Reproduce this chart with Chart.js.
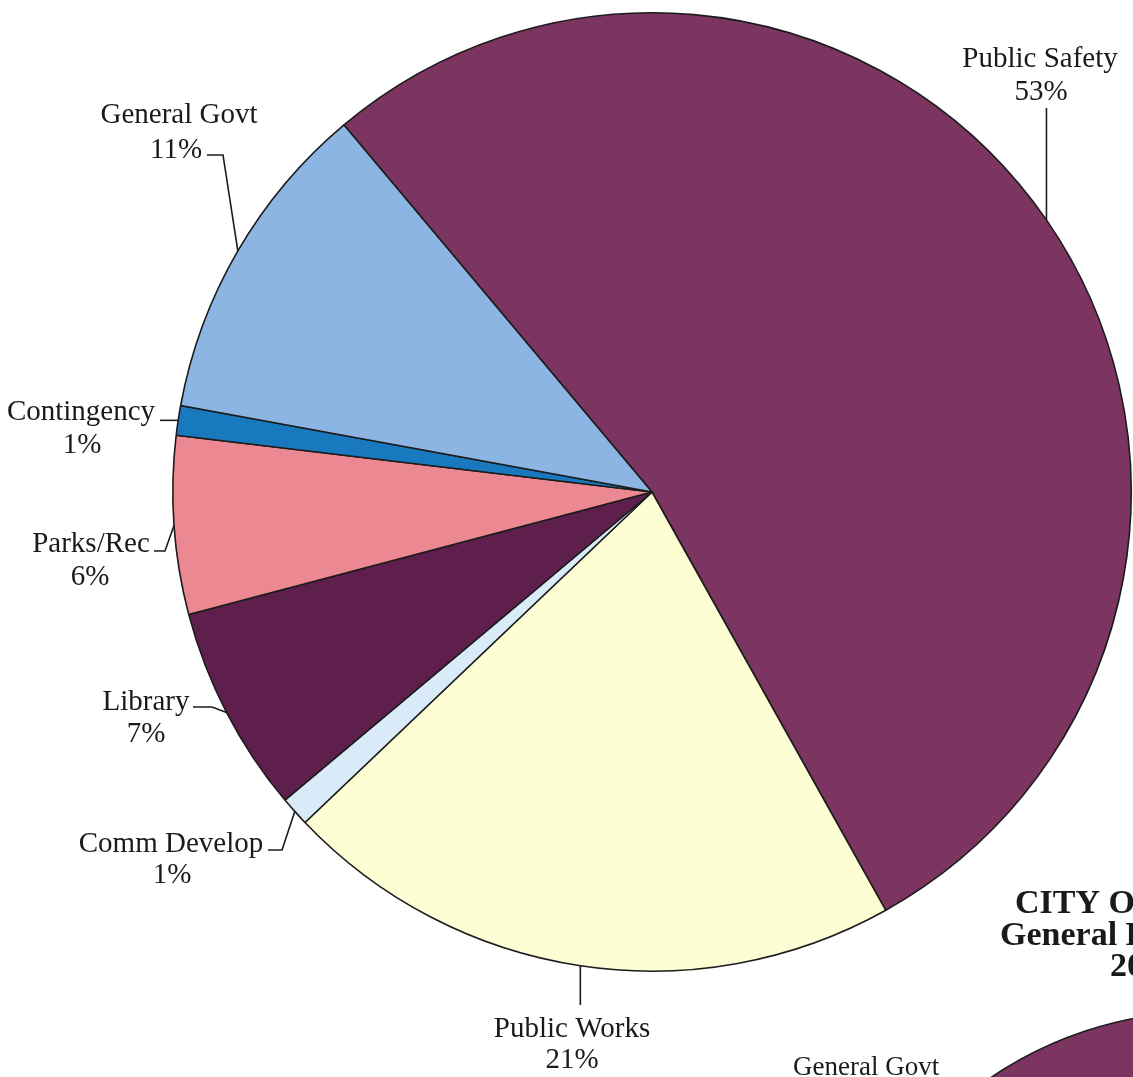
<!DOCTYPE html>
<html>
<head>
<meta charset="utf-8">
<title>General Fund Expenditures</title>
<script src="https://cdn.jsdelivr.net/npm/chart.js@4.4.1/dist/chart.umd.min.js"></script>
<style>
  html, body {
    margin: 0;
    padding: 0;
    background: #ffffff;
  }
  .page {
    position: relative;
    width: 1133px;
    height: 1077px;
    overflow: hidden;
    background: #ffffff;
  }
  #mainPie {
    position: absolute;
    left: 0;
    top: 0;
  }
  /* the next year's pie starts just below, only its top edge shows */
  #nextPie {
    position: absolute;
    left: 823px;
    top: 1011px;
  }
</style>
</head>
<body>
<div class="page">
  <canvas id="mainPie" width="1133" height="1077"></canvas>
  <canvas id="nextPie" width="764" height="764"></canvas>
</div>

<script>
// Spese del fondo generale, per funzione (in %)
const categories = ['Public Safety', 'Public Works', 'Comm Develop', 'Library', 'Parks/Rec', 'Contingency', 'General Govt'];
const shares = [53, 21, 1, 7, 6, 1, 11];
const sliceColors = ['#7c3461', '#fefed5', '#d9ebf8', '#5e1f4c', '#ec8891', '#1979bf', '#8cb5e3'];

// Righe del titolo (tagliate dal bordo pagina)
const headingLines = ['CITY OF', 'General F', '20'];

// Posizione etichette e linee di richiamo (null = usa il punto sul bordo della fetta)
const labelSpots = [
  { name: [1040, 67],  pct: [1041, 100], leader: [[null, 108]] },
  { name: [572, 1037], pct: [572, 1068], leader: [[null, 1005]] },
  { name: [171, 852],  pct: [172, 883],  leader: [[282, 850], [268, 850]] },
  { name: [146, 710],  pct: [146, 742],  leader: [[212, 707], [193, 707]] },
  { name: [91, 552],   pct: [90, 585],   leader: [[165, 551], [154, 551]] },
  { name: [81, 420],   pct: [82, 453],   leader: [[160, null]] },
  { name: [179, 123],  pct: [176, 158],  leader: [[223, 155], [207, 155]] }
];

const serif = '"Liberation Serif", "Times New Roman", serif';

// Disegna nomi, percentuali e linee di richiamo attorno alla torta
const leaderLabels = {
  id: 'leaderLabels',
  afterDatasetsDraw(chart) {
    const ctx = chart.ctx;
    const arcs = chart.getDatasetMeta(0).data;
    ctx.save();
    ctx.strokeStyle = '#1b1b1b';
    ctx.lineWidth = 1.6;
    ctx.fillStyle = '#1a1a1a';
    ctx.font = '29px ' + serif;
    ctx.textAlign = 'center';
    ctx.textBaseline = 'alphabetic';

    arcs.forEach((arc, i) => {
      const spot = labelSpots[i];
      const p = arc.getProps(['x', 'y', 'startAngle', 'endAngle', 'outerRadius'], true);
      const mid = (p.startAngle + p.endAngle) / 2;
      const ex = p.x + Math.cos(mid) * p.outerRadius;
      const ey = p.y + Math.sin(mid) * p.outerRadius;

      ctx.beginPath();
      ctx.moveTo(ex, ey);
      spot.leader.forEach(([lx, ly]) => ctx.lineTo(lx ?? ex, ly ?? ey));
      ctx.stroke();

      ctx.fillText(categories[i], spot.name[0], spot.name[1]);
      ctx.fillText(shares[i] + '%', spot.pct[0], spot.pct[1]);
    });

    // etichetta della torta successiva
    ctx.font = '27px ' + serif;
    ctx.textAlign = 'left';
    ctx.fillText('General Govt', 793, 1075);

    // titolo della pagina successiva
    ctx.font = 'bold 34px ' + serif;
    ctx.fillText(headingLines[0], 1015, 913);
    ctx.fillText(headingLines[1], 1000, 945);
    ctx.fillText(headingLines[2], 1110, 976);
    ctx.restore();
  }
};

const pieOptions = (padding) => ({
  responsive: false,
  animation: false,
  devicePixelRatio: 1,
  rotation: -40,
  layout: { padding: padding },
  plugins: {
    legend: { display: false },
    tooltip: { enabled: false }
  },
  events: []
});

const pieData = () => ({
  labels: categories,
  datasets: [{
    data: shares,
    backgroundColor: sliceColors,
    borderColor: '#1c1c1c',
    borderWidth: 1.6,
    hoverOffset: 0
  }]
});

new Chart(document.getElementById('mainPie'), {
  type: 'pie',
  data: pieData(),
  options: pieOptions({ left: 172, right: 1, top: 12, bottom: 105 }),
  plugins: [leaderLabels]
});

// torta successiva, si vede solo la parte alta di Public Safety
new Chart(document.getElementById('nextPie'), {
  type: 'pie',
  data: pieData(),
  options: pieOptions(0)
});
</script>
</body>
</html>
